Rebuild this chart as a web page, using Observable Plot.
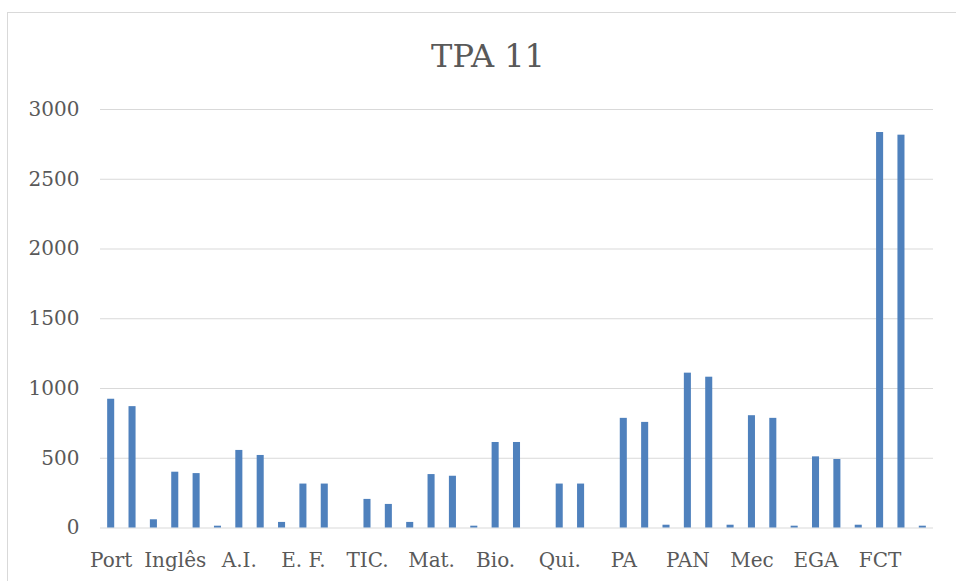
<!DOCTYPE html>
<html>
<head>
<meta charset="utf-8">
<script src="https://cdn.jsdelivr.net/npm/d3@7"></script>
<script src="https://cdn.jsdelivr.net/npm/@observablehq/plot@0.6"></script>
<style>
  html, body { margin: 0; padding: 0; background: #fff; }
  #wrap { position: relative; width: 956px; height: 581px; overflow: hidden; background: #fff; }
  #frame { position: absolute; left: 7px; top: 12px; width: 962px; height: 600px; border: 1px solid #d9d9d9; box-sizing: border-box; }
  #title { position: absolute; left: 7px; top: 40px; width: 962px; text-align: center; font-family: "DejaVu Serif", serif; font-size: 32px; line-height: 32px; color: #595959; }
  #chart { position: absolute; left: 0; top: 90px; }
</style>
</head>
<body>
<div id="wrap">
  <div id="frame"></div>
  <div id="title">TPA 11</div>
  <div id="chart"></div>
</div>
<script>
const subjects = ["Port", "Inglês", "A.I.", "E. F.", "TIC.", "Mat.", "Bio.", "Qui.", "PA", "PAN", "Mec", "EGA", "FCT"];
const serie1 = [923, 400, 556, 315, 205, 383, 613, 315, 786, 1110, 805, 510, 2835];
const serie2 = [870, 390, 520, 315, 169, 371, 613, 315, 757, 1081, 786, 491, 2816];
const serie3 = [59, 13, 40, 0, 40, 13, 0, 0, 20, 20, 13, 20, 13];
const yTicks = [0, 500, 1000, 1500, 2000, 2500, 3000];

const data = [];
subjects.forEach((s, i) => {
  data.push({idx: i * 3, value: serie1[i]});
  data.push({idx: i * 3 + 1, value: serie2[i]});
  data.push({idx: i * 3 + 2, value: serie3[i]});
});

const chart = Plot.plot({
  width: 956,
  height: 491,
  marginLeft: 100,
  marginRight: 23,
  marginTop: 19,
  marginBottom: 53.5,
  style: {fontFamily: "'DejaVu Serif', serif", fontSize: "20px", color: "#595959", background: "transparent"},
  x: {type: "band", domain: d3.range(subjects.length * 3), paddingInner: 0.67, paddingOuter: 0.335, align: 0.5, round: false, axis: null},
  y: {domain: [0, 3000], axis: null},
  marks: [
    Plot.gridY(yTicks, {stroke: "#d9d9d9", strokeOpacity: 1, strokeWidth: 1}),
    Plot.barY(data, {x: "idx", y: "value", fill: "#4f81bd"}),
    Plot.axisY(yTicks, {tickSize: 0, tickPadding: 21, fontSize: 20, label: null, fill: "#595959", tickFormat: d => String(d)}),
    Plot.axisX(d3.range(0, subjects.length * 3, 3), {tickSize: 0, tickPadding: 25, fontSize: 20, label: null, fill: "#595959", tickFormat: d => subjects[d / 3]})
  ]
});
document.getElementById("chart").appendChild(chart);
</script>
</body>
</html>
